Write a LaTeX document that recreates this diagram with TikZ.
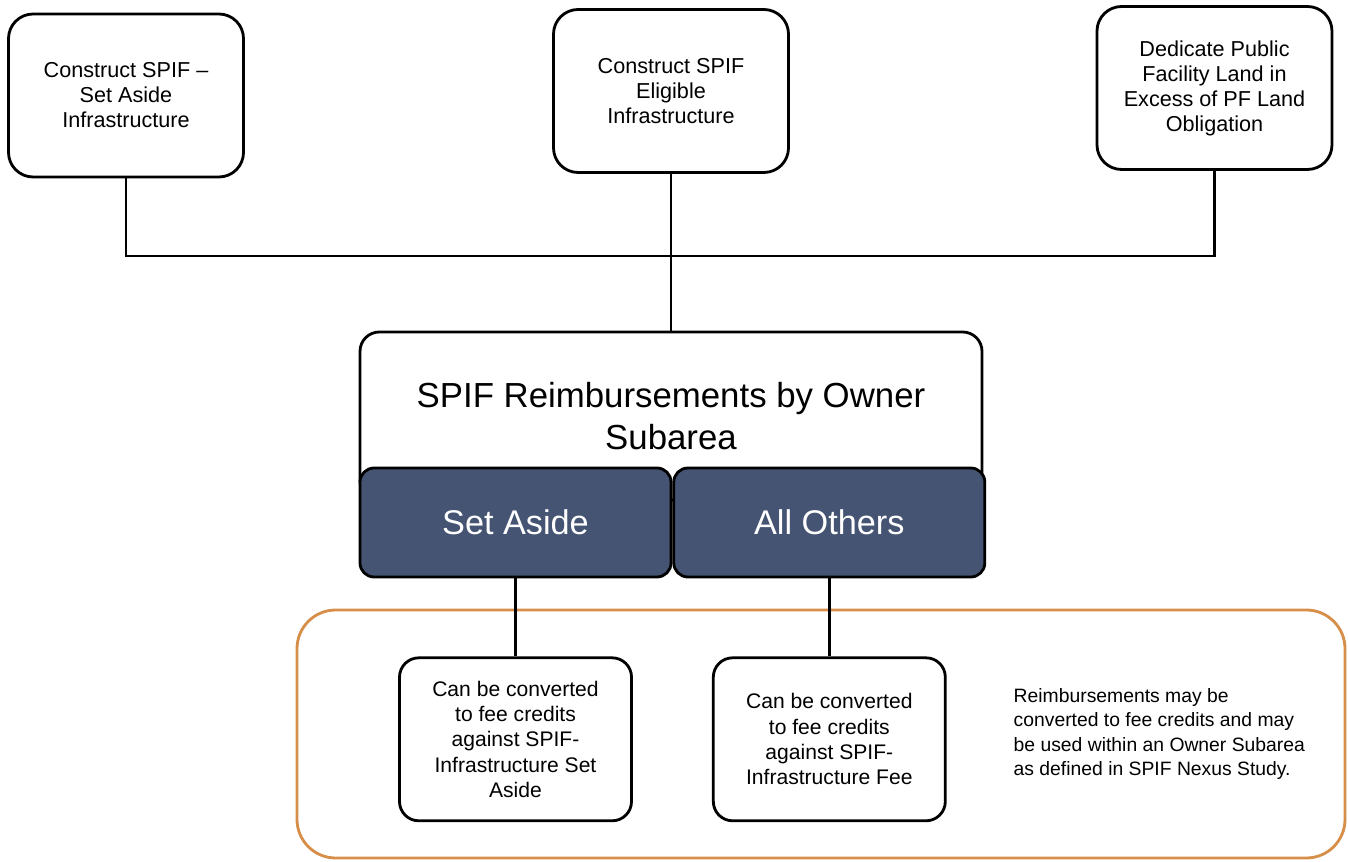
\documentclass[tikz,border=0pt]{standalone}
\usepackage{fontspec}
\setmainfont{Liberation Sans}
\usepackage{xcolor}
\usepackage{tikz}
\usetikzlibrary{positioning}

\definecolor{slatefill}{RGB}{68,84,114}
\definecolor{frameorange}{RGB}{214,142,72}

\begin{document}
\begin{tikzpicture}[
    font=\fontsize{12.3}{14.2}\selectfont,
    source/.style={
        draw,
        rounded corners=14pt,
        minimum width=4.7cm,
        minimum height=3.26cm,
        align=center,
        line width=1.6pt
    },
    header/.style={
        draw,
        fill=white,
        rounded corners=11pt,
        minimum width=12.44cm,
        minimum height=3.36cm,
        align=center,
        line width=1.6pt,
        font=\fontsize{19.8}{24}\selectfont
    },
    split/.style={
        draw,
        fill=slatefill,
        text=white,
        rounded corners=8pt,
        minimum width=6.22cm,
        minimum height=2.18cm,
        line width=1.6pt,
        font=\fontsize{19.5}{22}\selectfont
    },
    credit/.style={
        draw,
        rounded corners=11pt,
        minimum width=4.64cm,
        minimum height=3.26cm,
        align=center,
        line width=1.6pt,
        font=\fontsize{12}{14.4}\selectfont
    },
    link/.style={
        line width=1.4pt
    }
]
\useasboundingbox (0,0) rectangle (26.96,-17.24);

% Top row
\node[source] (cst) at (2.52,-1.91) {Construct SPIF --\\Set Aside\\Infrastructure};
\node[source] (cse) at (13.42,-1.82) {Construct SPIF\\Eligible\\Infrastructure};
\node[source] (dpl) at (24.29,-1.76) {Dedicate Public\\Facility Land in\\Excess of PF Land\\Obligation};

% Owner subarea box
\node[header] (reimb) at (13.42,-8.32) {SPIF Reimbursements by Owner\\Subarea};
\node[split] (setaside) at (10.31,-10.45) {Set Aside};
\node[split, right=0pt of setaside] (allothers) {All Others};

% Connectors
\coordinate (bus) at (13.42,-5.12);
\draw[link] (cst.south) |- (bus) -| (dpl.south);
\draw[link] (cse) -- (reimb);

% Fee credit area
\node[draw=frameorange, line width=1.6pt, rounded corners=22pt,
      minimum width=20.96cm, minimum height=4.96cm] (area) at (16.42,-14.68) {};

\node[credit, below=1.56cm of setaside] (conv1) {Can be converted\\to fee credits\\against SPIF-\\Infrastructure Set\\Aside};
\node[credit, below=1.56cm of allothers] (conv2) {Can be converted\\to fee credits\\against SPIF-\\Infrastructure Fee};

\draw[link] (setaside) -- (conv1);
\draw[link] (allothers) -- (conv2);

\node[anchor=west, align=left, font=\fontsize{11}{13.8}\selectfont] (note) at (20.15,-14.68)
    {Reimbursements may be\\converted to fee credits and may\\be used within an Owner Subarea\\as defined in SPIF Nexus Study.};

\end{tikzpicture}
\end{document}
